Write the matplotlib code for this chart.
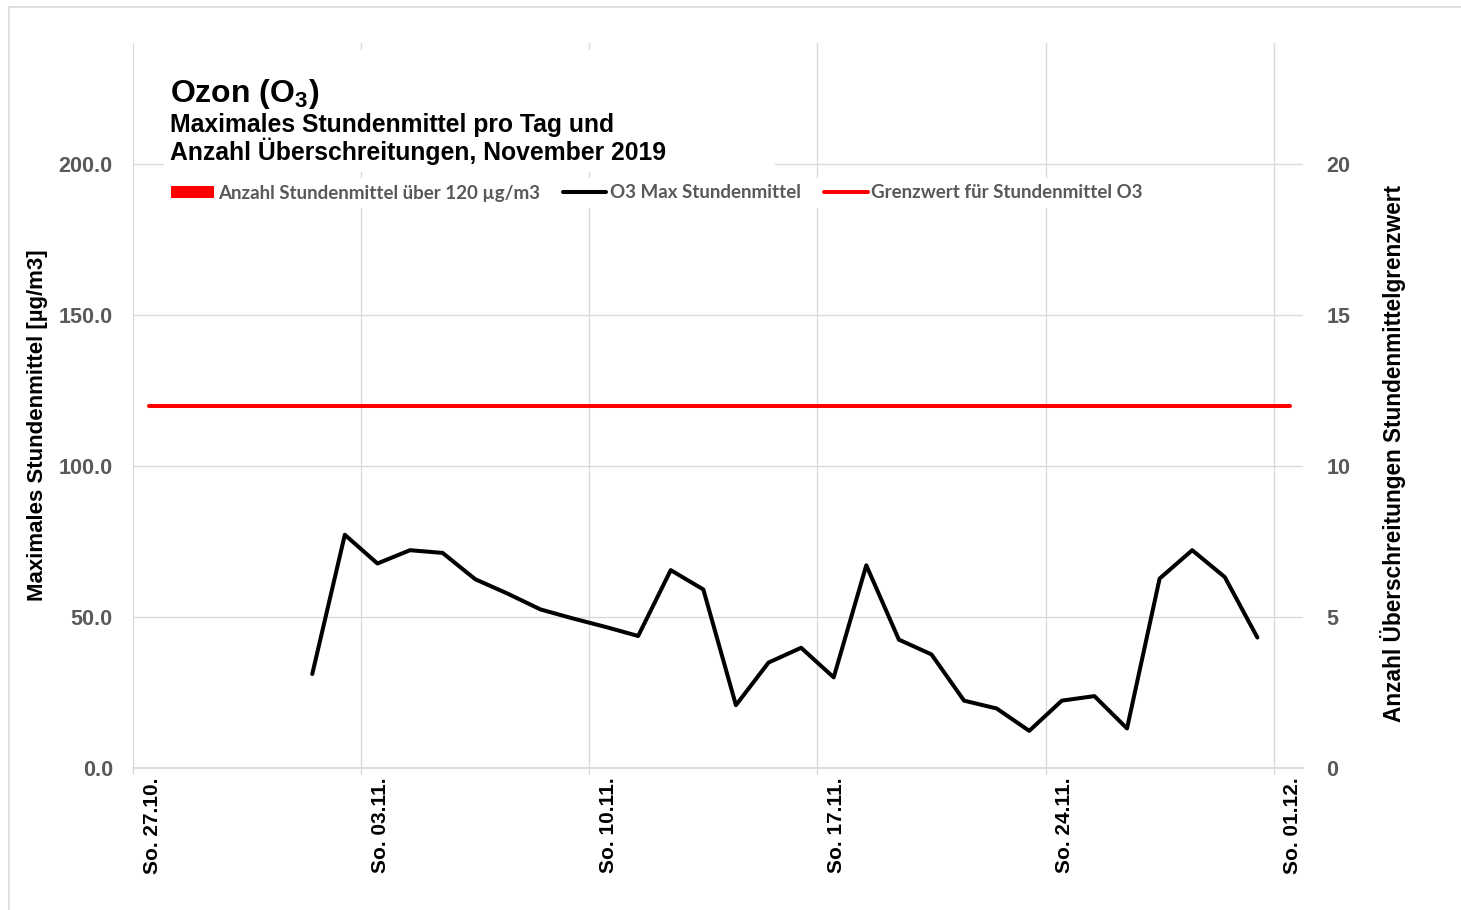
import numpy as np
import pandas as pd
import matplotlib
matplotlib.use("Agg")
import matplotlib.pyplot as plt
from matplotlib.patches import Rectangle
from matplotlib.lines import Line2D

# daily maximum of the hourly mean, November 2019
tage = pd.date_range("2019-11-01 12:00", "2019-11-30 12:00", freq="D")
o3_max = [31.1, 77.2, 67.7, 72.1, 71.2, 62.5, 57.7, 52.5, 49.5, 46.7,
          43.7, 65.5, 59.1, 20.8, 34.9, 39.8, 30.0, 67.1, 42.5, 37.6,
          22.3, 19.7, 12.3, 22.3, 23.8, 13.1, 62.7, 72.1, 63.2, 43.2]
# number of hourly means above 120 (none this month)
anzahl_ueber = [0] * 30

# limit value line
grenz_daten = pd.to_datetime(["2019-10-27 12:00", "2019-12-01 12:00"])
grenz_wert = [120, 120]

# x axis: sundays
sonntage = pd.to_datetime(["2019-10-27", "2019-11-03", "2019-11-10",
                           "2019-11-17", "2019-11-24", "2019-12-01"])
sonntag_labels = ["So. 27.10.", "So. 03.11.", "So. 10.11.",
                  "So. 17.11.", "So. 24.11.", "So. 01.12."]

links_ticks = [0, 50, 100, 150, 200]
rechts_ticks = [0, 5, 10, 15, 20]

grau = "#595959"
gitter = "#d9d9d9"
W, H = 1461, 910

plt.rcParams["font.family"] = ["Liberation Sans", "DejaVu Sans"]
plt.rcParams["font.weight"] = "bold"

fig = plt.figure(figsize=(W / 100, H / 100), dpi=100)
ax = fig.add_axes([133 / W, 1 - 768 / H, (1303 - 133) / W, (768 - 43) / H])
ax2 = ax.twinx()
ax.set_zorder(ax2.get_zorder() + 1)
ax.patch.set_visible(False)

# bars on the secondary axis (all zero)
balken = ax2.bar(tage, anzahl_ueber, width=0.6, color="#ff0000", linewidth=0,
                 label="Anzahl Stundenmittel über 120 µg/m3")
ax2.set_ylim(0, 24)
ax2.set_yticks(rechts_ticks)
ax2.tick_params(axis="y", length=0, pad=17, labelsize=15.5, labelcolor=grau)
for s in ax2.spines.values():
    s.set_visible(False)

linie, = ax.plot(tage, o3_max, color="black", lw=2.9, solid_capstyle="round",
                 solid_joinstyle="round", label="O3 Max Stundenmittel")
grenz, = ax.plot(grenz_daten, grenz_wert, color="#ff0000", lw=2.9,
                 solid_capstyle="round", label="Grenzwert für Stundenmittel O3")

start = pd.Timestamp("2019-10-27")
ax.set_xlim(start, start + pd.Timedelta(days=35.9))
ax.set_ylim(0, 240)
ax.set_yticks(links_ticks)
ax.set_yticklabels([f"{v:.1f}" for v in links_ticks])
ax.tick_params(axis="y", length=0, pad=14.5, labelsize=15.5, labelcolor=grau)

ax.set_xticks(sonntage)
ax.set_xticklabels([""] * len(sonntage))
ax.tick_params(axis="x", which="major", length=4.5, width=0.9, color=gitter)
# labels sit a little right of the grid lines
ax.set_xticks(sonntage + pd.Timedelta(hours=14), sonntag_labels, minor=True)
ax.tick_params(axis="x", which="minor", length=0, pad=7, labelsize=15,
               labelrotation=90, labelcolor="black")

for lab in ax.get_yticklabels() + ax2.get_yticklabels() + ax.get_xticklabels(minor=True):
    lab.set_fontweight("bold")

ax.grid(True, which="major", color=gitter, lw=0.95)
ax.set_axisbelow(True)
for k in ["top", "left", "right"]:
    ax.spines[k].set_visible(False)
ax.spines["bottom"].set_color(gitter)
ax.spines["bottom"].set_linewidth(1.3)

# axis titles
fig.text(38 / W, 1 - 425 / H, "Maximales Stundenmittel [µg/m3]", rotation=90,
         ha="center", va="center", fontsize=16, fontweight="bold")
fig.text(1393 / W, 1 - 454 / H, "Anzahl Überschreitungen Stundenmittelgrenzwert",
         rotation=90, ha="center", va="center", fontsize=16.3, fontweight="bold")

# title block on white background
fig.patches.append(Rectangle((164 / W, 1 - 172 / H), (775 - 164) / W, (172 - 50) / H,
                             transform=fig.transFigure, facecolor="white",
                             edgecolor="none", zorder=2))
fig.text(170 / W, 1 - 102 / H, r"Ozon (O$_\mathregular{3}$)", fontsize=23,
         fontweight="bold", va="baseline", zorder=3)
fig.text(170 / W, 1 - 132 / H, "Maximales Stundenmittel pro Tag und",
         fontsize=17.8, fontweight="bold", va="baseline", zorder=3)
fig.text(170 / W, 1 - 160 / H, "Anzahl Überschreitungen, November 2019",
         fontsize=17.8, fontweight="bold", va="baseline", zorder=3)

leg = ax.legend(handles=[balken, linie, grenz], loc="center left",
                bbox_to_anchor=(155 / W, 1 - 193 / H),
                bbox_transform=fig.transFigure, ncol=3, frameon=True,
                facecolor="white", edgecolor="none", framealpha=1,
                fancybox=False, handlelength=2.3, handleheight=0.65,
                handletextpad=0.2, columnspacing=1.25, borderpad=0.35,
                prop={"family": "Lato", "weight": "bold", "size": 13.5})
for t in leg.get_texts():
    t.set_color(grau)

# chart frame
fig.add_artist(Line2D([9 / W, 9 / W], [0, 1 - 7 / H], color=gitter, lw=1.2))
fig.add_artist(Line2D([9 / W, 1], [1 - 7 / H, 1 - 7 / H], color=gitter, lw=1.2))

fig.savefig("out.png", dpi=100)
